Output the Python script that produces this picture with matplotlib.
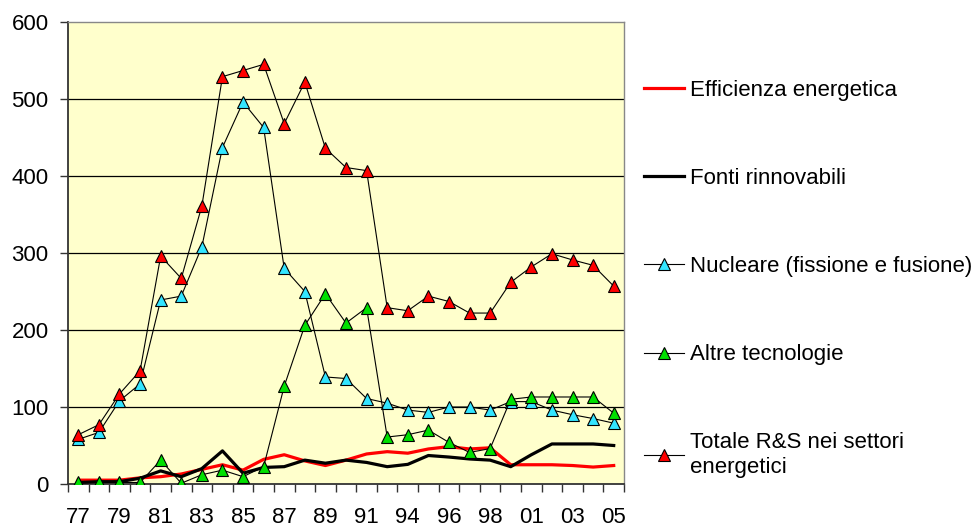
import matplotlib
matplotlib.use("Agg")
import matplotlib.pyplot as plt

plt.rcParams['font.family'] = ['Liberation Sans', 'DejaVu Sans']

years = ["77", "78", "79", "80", "81", "82", "83", "84", "85", "86", "87", "88", "89", "90",
         "91", "93", "94", "95", "96", "97", "98", "00", "01", "02", "03", "04", "05"]

efficienza = [5, 5, 5, 8, 9.5, 13, 19, 25, 18, 32, 38, 30, 24, 31, 39, 42, 40, 45.5, 48.5,
              45.5, 47, 25, 25, 25, 24, 22, 24]
fonti = [2, 3, 3, 7.5, 17, 9.5, 20, 43, 14, 21.5, 22.5, 31, 27, 31, 28, 22.5, 25.5, 37, 35,
         32.5, 31, 22.5, 38, 52, 52, 52, 50]
nucleare = [58, 67, 108, 130, 239, 244, 308, 437, 496, 463, 280, 250, 139, 137, 111, 105, 96,
            93, 100, 100, 96, 107, 107, 96, 90, 85, 79]
altre = [2, 2, 2, 2, 31, 1, 12, 18, 9.5, 22.5, 127, 206, 247, 209, 229, 61, 64, 70, 54, 41,
         46, 110, 113, 113, 113, 113, 92]
totale = [64, 77, 117, 147, 296, 267, 361, 529, 537, 545, 468, 522, 436, 411, 407, 229, 225,
          244, 237, 222, 222, 262, 282, 299, 291, 284, 257]

labels = ["Efficienza energetica", "Fonti rinnovabili", "Nucleare (fissione e fusione)",
          "Altre tecnologie", "Totale R&S nei settori\nenergetici"]

FS = 16

fig = plt.figure(figsize=(9.79, 5.27), dpi=100)
ax = fig.add_axes([68/979, 1-484/527, (624-68)/979, (484-22)/527])
ax.set_facecolor('#FFFFCC')

x = list(range(len(years)))
ax.plot(x, efficienza, color='#FF0000', lw=2.3, label=labels[0], zorder=3)
ax.plot(x, fonti, color='black', lw=2.3, label=labels[1], zorder=3)
mk = dict(marker='^', markersize=9, markeredgecolor='black', markeredgewidth=0.8,
          color='black', lw=0.8, zorder=4)
ax.plot(x, nucleare, markerfacecolor='#33E5FF', label=labels[2], **mk)
ax.plot(x, altre, markerfacecolor='#00E000', label=labels[3], **mk)
ax.plot(x, totale, markerfacecolor='#FF0000', label=labels[4], **mk)

ax.set_xlim(-0.5, len(years) - 0.5)
ax.set_ylim(0, 600)
ax.set_yticks(range(0, 601, 100))
for v in range(100, 600, 100):
    ax.axhline(v, color='black', lw=0.9, zorder=1)

ax.set_xticks([i - 0.5 for i in range(len(years) + 1)])
ax.set_xticklabels([])
ax.set_xticks(x[::2], minor=True)
ax.set_xticklabels(years[::2], minor=True)
ax.tick_params(axis='x', which='major', direction='out', length=6, width=1, color='#333333')
ax.tick_params(axis='x', which='minor', length=0, pad=16.5, labelsize=FS)
ax.tick_params(axis='y', direction='out', length=6, width=1, color='#333333', labelsize=FS, pad=8)

for s in ['top', 'right']:
    ax.spines[s].set_color('#888888')
    ax.spines[s].set_linewidth(1)
ax.spines['left'].set_color('#333333')
ax.spines['bottom'].set_color('#333333')
ax.spines['left'].set_linewidth(1.3)
ax.spines['bottom'].set_linewidth(1.3)

leg = fig.legend(loc='upper left', bbox_to_anchor=(644/979, 1-80/527), frameon=False,
                 fontsize=FS, handlelength=1.8, handletextpad=0.25, labelspacing=3.02,
                 borderaxespad=0, borderpad=0)

fig.savefig('out.png', dpi=100)
